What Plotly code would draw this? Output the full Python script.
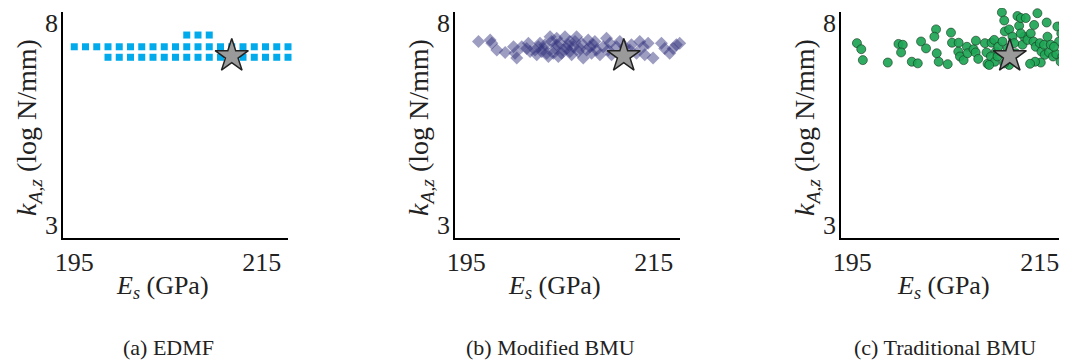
import plotly.graph_objects as go

# ---------------- data ----------------
# (a) EDMF candidate grid
edmf_x = [195.0, 196.2, 197.4, 198.6, 199.8, 201.0, 202.2, 203.4, 204.6, 205.8,
          207.0, 208.2, 209.4, 210.6, 211.8, 213.0, 214.2, 215.4, 216.6, 217.8,
          198.6, 199.8, 201.0, 202.2, 203.4, 204.6, 205.8, 207.0, 208.2, 209.4,
          210.6, 211.8, 213.0, 214.2, 215.4, 216.6, 217.8,
          207.0, 208.2, 209.4]
edmf_y = [7.41] * 20 + [7.15] * 17 + [7.70] * 3

# (b) Modified BMU samples
mbmu_x = [196.31, 197.55, 197.73, 198.26, 199.15, 200.04, 200.21, 200.39, 200.92, 201.45,
          201.63, 201.81, 202.34, 202.70, 202.87, 203.05, 203.40, 203.76, 203.94, 204.11,
          204.47, 204.65, 204.82, 205.00, 205.18, 205.53, 205.71, 206.06, 206.24, 206.42,
          206.77, 206.95, 207.30, 207.48, 207.84, 208.01, 208.37, 208.55, 208.90, 209.26,
          209.61, 209.96, 210.14, 210.32, 210.50, 211.03, 211.38, 211.91, 212.45, 212.62,
          213.16, 213.51, 213.87, 214.04, 214.40, 214.93, 215.82, 216.17, 216.70, 217.06,
          217.41, 217.77, 203.58, 204.29, 205.35, 205.89, 207.13, 204.65, 203.23, 206.06,
          202.52, 206.60, 208.19, 208.72]
mbmu_y = [7.54, 7.58, 7.50, 7.33, 7.27, 7.41, 7.25, 7.13, 7.41, 7.37,
          7.50, 7.29, 7.33, 7.41, 7.50, 7.29, 7.46, 7.17, 7.66, 7.54,
          7.37, 7.62, 7.17, 7.50, 7.25, 7.66, 7.37, 7.54, 7.21, 7.41,
          7.66, 7.29, 7.50, 7.13, 7.33, 7.58, 7.25, 7.46, 7.33, 7.21,
          7.41, 7.62, 7.33, 7.50, 7.21, 7.41, 7.54, 7.41, 7.33, 7.46,
          7.25, 7.54, 7.41, 7.21, 7.50, 7.13, 7.50, 7.37, 7.25, 7.37,
          7.46, 7.50, 7.25, 7.25, 7.33, 7.46, 7.37, 7.46, 7.37, 7.29,
          7.21, 7.54, 7.41, 7.54]

# (c) Traditional BMU samples
tbmu_x = [195.50, 195.96, 196.13, 198.79, 199.93, 200.39, 200.21, 201.35, 201.99, 202.34,
          202.87, 203.94, 203.76, 204.01, 204.22, 205.18, 205.53, 205.64, 206.35, 206.31,
          206.49, 206.88, 207.23, 207.30, 207.94, 208.19, 208.16, 208.44, 209.15, 209.33,
          209.43, 209.86, 210.14, 210.32, 210.57,
          210.96, 211.21, 211.28, 211.74, 211.03, 211.56, 212.09, 212.62, 212.80, 212.98,
          213.16, 213.33, 213.69, 213.87, 214.04, 214.33, 214.40, 214.75, 214.57, 215.00,
          215.18, 215.46, 215.53, 215.74, 215.99, 216.42, 216.77, 217.06, 216.88, 217.30,
          217.41, 217.52, 217.59, 215.11, 214.50, 213.97, 209.79, 210.21, 211.91, 211.74,
          212.45, 212.98, 213.51, 212.27, 210.50, 211.21, 209.61, 215.82, 216.17, 216.52,
          217.23, 217.77, 217.77]
tbmu_y = [7.50, 7.35, 7.08, 7.02, 7.48, 7.46, 7.27, 7.04, 7.00, 7.54,
          7.37, 7.84, 7.66, 7.25, 7.04, 6.98, 7.76, 7.51, 7.51, 7.29,
          7.17, 7.08, 7.41, 7.25, 7.35, 7.56, 7.27, 7.11, 7.50, 7.27,
          6.99, 7.51, 7.58, 7.29, 7.41,
          8.26, 8.06, 7.79, 7.84, 7.54, 7.37, 7.66, 8.17, 7.93, 8.12,
          7.46, 7.66, 7.58, 8.28, 7.74, 7.54, 7.95, 8.24, 7.41, 7.50,
          7.29, 7.46, 7.21, 8.01, 7.27, 7.17, 7.23, 7.54, 7.91, 7.74,
          7.17, 7.99, 7.04, 7.02, 7.04, 6.99, 7.17, 7.04, 7.21, 6.96,
          7.25, 7.74, 8.12, 7.50, 7.17, 7.00, 6.96, 7.66, 7.46, 7.41,
          7.04, 7.33, 7.83]

true_x = [211.8]
true_y = [7.18]

x_ticks = [195, 215]
y_ticks = [3, 8]
x_range = [193.8, 217.8]
y_range = [2.68, 8.27]
captions = ["(a) EDMF", "(b) Modified BMU", "(c) Traditional BMU"]

# ---------------- figure ----------------
# the page body has an 8px default margin, so the figure is offset by OFF
OFF = 8
W, H = 1067 - OFF, 360 - OFF
SERIF = "Liberation Serif, Times New Roman, serif"


def px_x(p):
    return (p - OFF) / W


def px_y(p):
    return (H - (p - OFF)) / H


fig = go.Figure()


def star_trace(xa, ya):
    return go.Scatter(x=true_x, y=true_y, xaxis=xa, yaxis=ya, mode="markers",
                      cliponaxis=False, showlegend=False,
                      marker=dict(symbol="star", size=25, color="#9a9a9a",
                                  line=dict(color="#222222", width=1.5)))


fig.add_trace(go.Scatter(x=edmf_x, y=edmf_y, xaxis="x", yaxis="y", mode="markers",
                         cliponaxis=False, showlegend=False,
                         marker=dict(symbol="square", size=7, color="#00AAEB",
                                     line=dict(width=0))))
fig.add_trace(star_trace("x", "y"))

fig.add_trace(go.Scatter(x=mbmu_x, y=mbmu_y, xaxis="x2", yaxis="y2", mode="markers",
                         cliponaxis=False, showlegend=False,
                         marker=dict(symbol="diamond", size=10, color="rgba(50,50,125,0.48)",
                                     line=dict(width=0))))
fig.add_trace(star_trace("x2", "y2"))

fig.add_trace(go.Scatter(x=tbmu_x, y=tbmu_y, xaxis="x3", yaxis="y3", mode="markers",
                         cliponaxis=False, showlegend=False,
                         marker=dict(symbol="circle", size=9, color="rgba(30,165,85,0.92)",
                                     line=dict(color="rgba(25,60,35,0.65)", width=1))))
fig.add_trace(star_trace("x3", "y3"))

left_px = [63, 455, 841]
width_px = 225
ydom = [px_y(238), px_y(12)]

axis_common = dict(showline=True, linecolor="black", linewidth=1.5, mirror=False,
                   showgrid=False, zeroline=False, ticks="", automargin=False,
                   tickfont=dict(family=SERIF, size=26, color="#222222"))

layout = dict(template="none", width=W, height=H,
              margin=dict(l=0, r=0, t=0, b=0, pad=0, autoexpand=False),
              paper_bgcolor="white", plot_bgcolor="white", showlegend=False)

for i, lp in enumerate(left_px):
    sfx = "" if i == 0 else str(i + 1)
    layout["xaxis" + sfx] = dict(axis_common, domain=[px_x(lp), min(1.0, px_x(lp + width_px))],
                                 range=x_range, tickvals=x_ticks,
                                 anchor="y" + sfx, ticklabelstandoff=0)
    layout["yaxis" + sfx] = dict(axis_common, domain=ydom, range=y_range,
                                 tickvals=y_ticks, anchor="x" + sfx,
                                 ticklabelstandoff=-2)

fig.update_layout(**layout)

ann = []
xtitle_px = [162, 554, 943]
ytitle_px = [28, 420, 806]
cap_px = [168, 550, 945]
for i in range(3):
    ann.append(dict(x=px_x(xtitle_px[i]), y=px_y(287), xref="paper", yref="paper",
                    text="<i>E<sub>s</sub></i> (GPa)", showarrow=False,
                    xanchor="center", yanchor="middle",
                    font=dict(family=SERIF, size=26, color="#222222")))
    ann.append(dict(x=px_x(ytitle_px[i]), y=px_y(128), xref="paper", yref="paper",
                    text="<i>k<sub>A,z</sub></i> (log N/mm)", showarrow=False,
                    textangle=-90, xanchor="center", yanchor="middle",
                    font=dict(family=SERIF, size=28, color="#222222")))
    ann.append(dict(x=px_x(cap_px[i]), y=px_y(347), xref="paper", yref="paper",
                    text=captions[i], showarrow=False,
                    xanchor="center", yanchor="middle",
                    font=dict(family=SERIF, size=22, color="#222222")))
fig.update_layout(annotations=ann)

fig.write_html("out.html")
